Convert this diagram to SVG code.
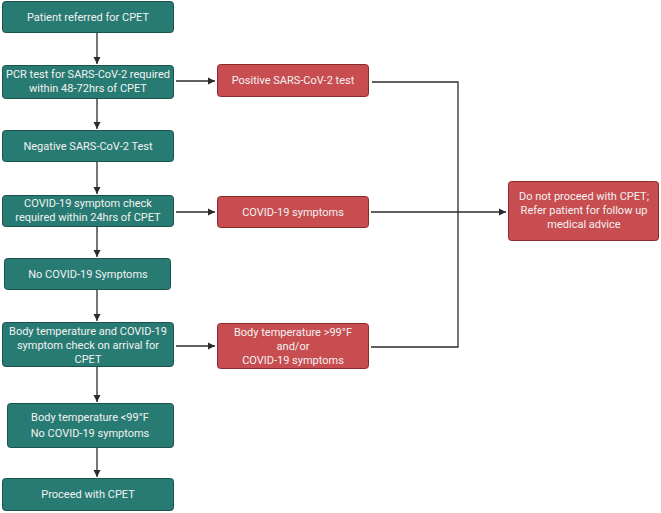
<svg xmlns="http://www.w3.org/2000/svg" width="661" height="513" viewBox="0 0 661 513">
<style>
.g rect{fill:#287b72;stroke:#1c524c;stroke-width:1}
.r rect{fill:#c84d50;stroke:#8a2a2d;stroke-width:1}
text{font-family:Roboto,"Liberation Sans",sans-serif;font-size:11px;fill:#f2f2f2;text-anchor:middle}
.c{stroke:#2b2b2b;stroke-width:1.3;fill:none}
</style>
<defs>
<marker id="ah" markerWidth="8" markerHeight="8" refX="7" refY="4" orient="auto" markerUnits="userSpaceOnUse">
<path d="M0,0.5 L7,4 L0,7.5 Z" fill="#2b2b2b"/>
</marker>
</defs>
<rect width="661" height="513" fill="#ffffff"/>
<g id="connectors">
<line class="c" x1="97" y1="33" x2="97" y2="64" marker-end="url(#ah)"/>
<line class="c" x1="97" y1="99" x2="97" y2="129" marker-end="url(#ah)"/>
<line class="c" x1="97" y1="162" x2="97" y2="194" marker-end="url(#ah)"/>
<line class="c" x1="97" y1="227" x2="97" y2="257" marker-end="url(#ah)"/>
<line class="c" x1="97" y1="290" x2="97" y2="321" marker-end="url(#ah)"/>
<line class="c" x1="97" y1="367" x2="97" y2="402" marker-end="url(#ah)"/>
<line class="c" x1="97" y1="448" x2="97" y2="477" marker-end="url(#ah)"/>
<line class="c" x1="176" y1="81" x2="215" y2="81" marker-end="url(#ah)"/>
<line class="c" x1="176" y1="212" x2="215" y2="212" marker-end="url(#ah)"/>
<line class="c" x1="176" y1="346" x2="215" y2="346" marker-end="url(#ah)"/>
<polyline class="c" points="372,82 458,82 458,347 371,347"/>
<line class="c" x1="371" y1="212" x2="506" y2="212" marker-end="url(#ah)"/>
</g>
<g id="n1" class="g"><rect x="2.5" y="1.5" width="171" height="31" rx="3"/><text x="88" y="21">Patient referred for CPET</text></g>
<g id="n2" class="g"><rect x="2.5" y="65.5" width="171" height="33" rx="3"/><text x="88" y="78">PCR test for SARS-CoV-2 required</text><text x="88" y="92">within 48-72hrs of CPET</text></g>
<g id="n3" class="g"><rect x="2.5" y="130.5" width="171" height="31" rx="3"/><text x="88" y="150">Negative SARS-CoV-2 Test</text></g>
<g id="n4" class="g"><rect x="2.5" y="195.5" width="171" height="31" rx="3"/><text x="88" y="207">COVID-19 symptom check</text><text x="88" y="221">required within 24hrs of CPET</text></g>
<g id="n5" class="g"><rect x="4.5" y="258.5" width="166" height="31" rx="3"/><text x="88" y="278">No COVID-19 Symptoms</text></g>
<g id="n6" class="g"><rect x="2.5" y="322.5" width="171" height="44" rx="3"/><text x="88" y="335">Body temperature and COVID-19</text><text x="88" y="349">symptom check on arrival for</text><text x="88" y="363">CPET</text></g>
<g id="n7" class="g"><rect x="7.5" y="403.5" width="166" height="44" rx="3"/><text x="90" y="421">Body temperature &lt;99°F</text><text x="90" y="437">No COVID-19 symptoms</text></g>
<g id="n8" class="g"><rect x="2.5" y="478.5" width="171" height="32" rx="3"/><text x="88" y="498">Proceed with CPET</text></g>
<g id="r1" class="r"><rect x="217.5" y="64.5" width="151" height="32" rx="3"/><text x="293" y="84">Positive SARS-CoV-2 test</text></g>
<g id="r2" class="r"><rect x="217.5" y="196.5" width="151" height="31" rx="3"/><text x="293" y="216">COVID-19 symptoms</text></g>
<g id="r3" class="r"><rect x="217.5" y="323.5" width="151" height="45" rx="3"/><text x="293" y="336">Body temperature &gt;99°F</text><text x="293" y="350">and/or</text><text x="293" y="364">COVID-19 symptoms</text></g>
<g id="r4" class="r"><rect x="508.5" y="181.5" width="150" height="59" rx="3"/><text x="584" y="200">Do not proceed with CPET;</text><text x="584" y="214">Refer patient for follow up</text><text x="584" y="228">medical advice</text></g>
</svg>
